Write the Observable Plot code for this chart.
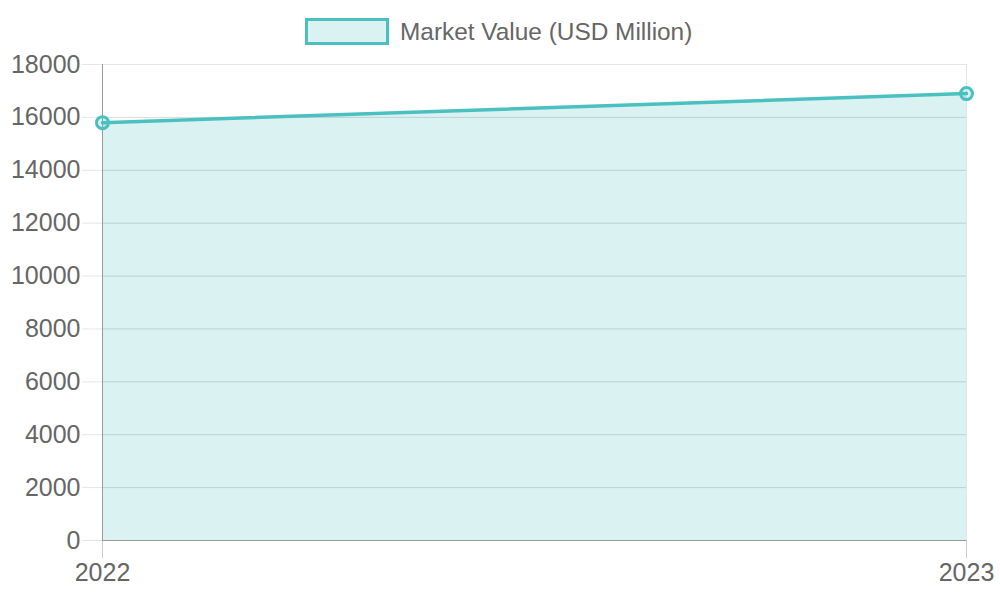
<!DOCTYPE html>
<html>
<head>
<meta charset="utf-8">
<script src="https://cdn.jsdelivr.net/npm/d3@7"></script>
<script src="https://cdn.jsdelivr.net/npm/@observablehq/plot@0.6"></script>
<style>
  html, body { margin: 0; padding: 0; background: #fff; }
  body { font-family: "Liberation Sans", Arial, sans-serif; }
  #legend { position: relative; width: 1000px; height: 50px; }
  #legend .box { position: absolute; left: 305px; top: 18px; width: 78px; height: 21px;
    border: 3px solid rgb(75,192,192); background: rgba(75,192,192,0.2); }
  #legend .label { position: absolute; left: 400px; top: 17px; font-size: 24.4px; line-height: 30px; color: #666; white-space: nowrap; }
</style>
</head>
<body>
<div id="legend"><div class="box"></div><div class="label">Market Value (USD Million)</div></div>
<div id="chart"></div>
<script>
const seriesName = "Market Value (USD Million)";
const years = [2022, 2023];
const values = [15800, 16900];
const yTicks = [0, 2000, 4000, 6000, 8000, 10000, 12000, 14000, 16000, 18000];
const xTicks = [2022, 2023];

const data = years.map((year, i) => ({year, value: values[i]}));
const teal = "rgb(75,192,192)";
const tealFill = "rgba(75,192,192,0.2)";

const chart = Plot.plot({
  width: 1000,
  height: 550,
  marginTop: 14,
  marginBottom: 60,
  marginLeft: 102,
  marginRight: 34,
  style: {fontFamily: '"Liberation Sans", Arial, sans-serif', fontSize: "25px", background: "#fff"},
  x: {type: "linear", domain: [2022, 2023], axis: null},
  y: {domain: [0, 18000], axis: null},
  marks: [
    Plot.gridY(yTicks, {stroke: "#000", strokeOpacity: 0.1, strokeWidth: 1}),
    Plot.ruleX([2023], {stroke: "#000", strokeOpacity: 0.1}),
    Plot.axisY(yTicks, {label: null, tickSize: 20, tickPadding: 2, stroke: "#000", strokeOpacity: 0.1, fill: "#666", fontSize: 25, tickFormat: d => String(d)}),
    Plot.axisX(xTicks, {label: null, tickSize: 18, tickPadding: 5, stroke: "#000", strokeOpacity: 0.2, fill: "#666", fontSize: 25, tickFormat: d => String(d)}),
    Plot.areaY(data, {x: "year", y: "value", fill: teal, fillOpacity: 0.2}),
    Plot.gridY(yTicks.filter(t => t > 0 && t < 18000), {stroke: "#000", strokeOpacity: 0.05, strokeWidth: 1}),
    Plot.ruleX([2022], {stroke: "#999"}),
    Plot.ruleY([0], {stroke: "#999"}),
    Plot.lineY(data, {x: "year", y: "value", stroke: teal, strokeWidth: 3.5}),
    Plot.dot(data, {x: "year", y: "value", r: 6, stroke: teal, strokeWidth: 3, fill: tealFill})
  ]
});
document.getElementById("chart").appendChild(chart);
</script>
</body>
</html>
